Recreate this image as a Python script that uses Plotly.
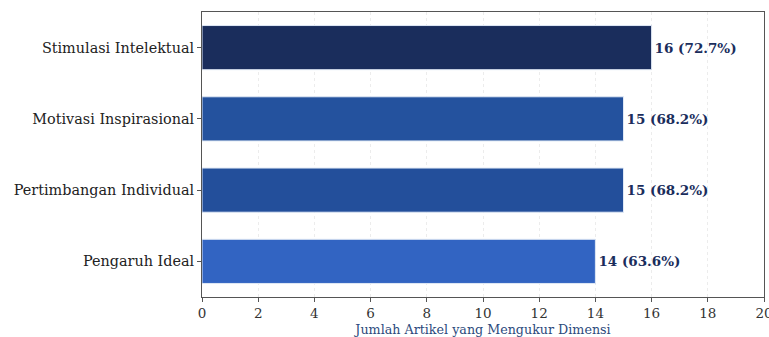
import plotly.graph_objects as go

categories = ["Pengaruh Ideal", "Pertimbangan Individual", "Motivasi Inspirasional", "Stimulasi Intelektual"]
counts = [14, 15, 15, 16]
percents = [63.6, 68.2, 68.2, 72.7]
colors = ["#3264c2", "#234f9b", "#24529e", "#1a2d5c"]
x_ticks = [0, 2, 4, 6, 8, 10, 12, 14, 16, 18, 20]

labels = [f"<b>{c} ({p}%)</b>" for c, p in zip(counts, percents)]

fig = go.Figure()
fig.add_trace(go.Bar(
    y=categories, x=counts, orientation="h",
    marker=dict(color=colors, line=dict(color="#dfe8f5", width=1)),
    width=0.62,
    text=labels, textposition="outside",
    textfont=dict(family="DejaVu Serif", size=13.5, color="#1a2d5c"),
    cliponaxis=False,
))

fig.update_layout(
    width=769, height=337,
    margin=dict(l=202, r=5, t=12, b=40),
    plot_bgcolor="white", paper_bgcolor="white",
    showlegend=False,
    font=dict(family="DejaVu Serif", size=13, color="#333333"),
)
fig.update_xaxes(
    range=[0, 20], tickvals=x_ticks,
    showgrid=True, gridcolor="#ececec", griddash="dot", gridwidth=1,
    showline=True, linecolor="#555555", linewidth=1, mirror=True,
    ticks="outside", ticklen=4, tickcolor="#555555",
    tickfont=dict(size=13.5, color="#333333"),
    ticklabeloverflow="allow", automargin=False,
    title=dict(text="Jumlah Artikel yang Mengukur Dimensi", font=dict(size=12.7, color="#2c4a7c"), standoff=8),
    zeroline=False,
)
fig.update_yaxes(
    showline=True, linecolor="#555555", linewidth=1, mirror=True,
    ticks="outside", ticklen=4, tickcolor="#555555",
    tickfont=dict(size=14.4, color="#222222"),
    automargin=False,
    range=[-0.5, 3.5],
)

fig.write_html("out.html")
